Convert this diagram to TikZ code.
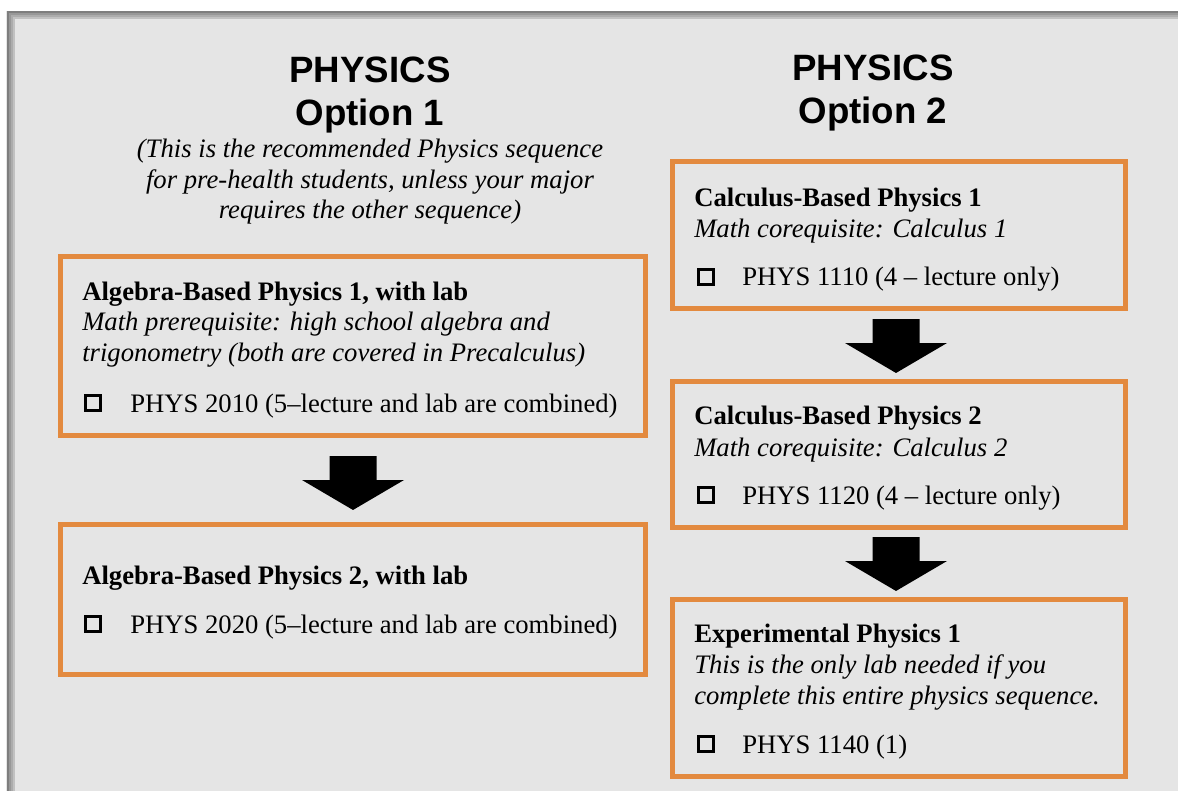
\documentclass[tikz,border=0pt]{standalone}
\usepackage{fontspec}
\setmainfont{Liberation Serif}
\newfontfamily\headfont{Liberation Sans}
\usetikzlibrary{calc}
\definecolor{panel}{HTML}{E5E5E5}
\definecolor{boxorange}{HTML}{E38A3F}
\definecolor{rimdark}{HTML}{7E7E7E}
\tikzset{
  box/.style={draw=boxorange, line width=3.4pt, inner sep=0pt, rectangle},
  headtxt/.style={font=\headfont\bfseries\fontsize{27.5}{31}\selectfont, anchor=base, inner sep=0pt},
  subtxt/.style={font=\itshape\fontsize{20}{24}\selectfont, anchor=base, inner sep=0pt},
  ttltxt/.style={font=\bfseries\fontsize{20}{24}\selectfont, anchor=base west, inner sep=0pt},
  itltxt/.style={font=\itshape\fontsize{20}{24}\selectfont, anchor=base west, inner sep=0pt},
  crstxt/.style={font=\fontsize{20}{24}\selectfont, anchor=base west, inner sep=0pt},
  chkbox/.style={draw=black, line width=2pt, minimum size={14.8*0.75pt}, inner sep=0pt, outer sep=0pt, anchor=south west},
  blk/.style={fill=black},
}
% #1 source box, #2 target box, #3 gap below source, #4 gap above target, #5 x offset
\newcommand\blockarrow[5]{%
  \fill[blk] ($(#1.south)+(#5-23.5,#3)$) -- ++(47,0) -- ++(0,24) -- ++(27.5,0)
    -- ($(#2.north)+(#5,-#4)$) -- ($(#1.south)+(#5-51,#3+24)$) -- ++(27.5,0) -- cycle;}
\begin{document}
\begin{tikzpicture}[x=0.75pt,y=-0.75pt]
\useasboundingbox (0,0) rectangle (1178,791);
\fill[white] (0,0) rectangle (1178,791);
\fill[panel] (6,11) rectangle (1178,791);
% rim and inner shadow
\draw[rimdark!35!panel, line width=1.5] (13.5,791) -- (13.5,18.5) -- (1178,18.5);
\draw[rimdark!55!panel, line width=1.5] (11.5,791) -- (11.5,16.5) -- (1178,16.5);
\draw[rimdark!75!panel, line width=1.5] (9.5,791) -- (9.5,14.5) -- (1178,14.5);
\draw[rimdark, line width=1.5] (7.5,791) -- (7.5,12.5) -- (1178,12.5);

% titles
\node[headtxt] (h1a) at (370,83) {PHYSICS};
\node[headtxt] (h1b) at (370,126) {Option 1};
\node[headtxt] (h2a) at (873,81) {PHYSICS};
\node[headtxt] (h2b) at (873,124) {Option 2};

\node[subtxt] (s1) at (370,158) {(This is the recommended Physics sequence};
\node[subtxt] (s2) at (370,189) {for pre-health students, unless your major};
\node[subtxt] (s3) at (370,219) {requires the other sequence)};

% boxes
\node[box, minimum width={585.5*0.75pt}, minimum height={179.5*0.75pt}] (L1) at (353,346) {};
\node[box, minimum width={585.5*0.75pt}, minimum height={150.5*0.75pt}] (L2) at (353,599.5) {};
\node[box, minimum width={453.5*0.75pt}, minimum height={147.5*0.75pt}] (R1) at (899,235) {};
\node[box, minimum width={453.5*0.75pt}, minimum height={146.5*0.75pt}] (R2) at (899,454.5) {};
\node[box, minimum width={453.5*0.75pt}, minimum height={177.5*0.75pt}] (R3) at (899,688) {};

% arrows
\blockarrow{L1}{L2}{18}{12}{0}
\blockarrow{R1}{R2}{8}{6}{-3}
\blockarrow{R2}{R3}{7}{6}{-3}

% L1 text
\node[ttltxt] (l1t) at (82,301) {Algebra-Based Physics 1, with lab};
\node[itltxt] (l1i) at (82,331) {Math prerequisite: high school algebra and};
\node[itltxt] (l1j) at (82,362) {trigonometry (both are covered in Precalculus)};
\node[chkbox] (l1b) at (85.5,410.5) {};
\node[crstxt] (l1c) at (130,412) {PHYS 2010 (5–lecture and lab are combined)};

% L2 text
\node[ttltxt] (l2t) at (82,584) {Algebra-Based Physics 2, with lab};
\node[chkbox] (l2b) at (85.5,631.5) {};
\node[crstxt] (l2c) at (130,633) {PHYS 2020 (5–lecture and lab are combined)};

% R1 text
\node[ttltxt] (r1t) at (694,207) {Calculus-Based Physics 1};
\node[itltxt] (r1i) at (694,238) {Math corequisite: Calculus 1};
\node[chkbox] (r1b) at (698.5,284.5) {};
\node[crstxt] (r1c) at (742,286) {PHYS 1110 (4 – lecture only)};

% R2 text
\node[ttltxt] (r2t) at (694,425) {Calculus-Based Physics 2};
\node[itltxt] (r2i) at (694,456) {Math corequisite: Calculus 2};
\node[chkbox] (r2b) at (698.5,502.5) {};
\node[crstxt] (r2c) at (742,504) {PHYS 1120 (4 – lecture only)};

% R3 text
\node[ttltxt] (r3t) at (694,642) {Experimental Physics 1};
\node[itltxt] (r3i) at (694,673) {This is the only lab needed if you};
\node[itltxt] (r3j) at (694,704) {complete this entire physics sequence.};
\node[chkbox] (r3b) at (698.5,751.5) {};
\node[crstxt] (r3c) at (742,753) {PHYS 1140 (1)};
\end{tikzpicture}
\end{document}
